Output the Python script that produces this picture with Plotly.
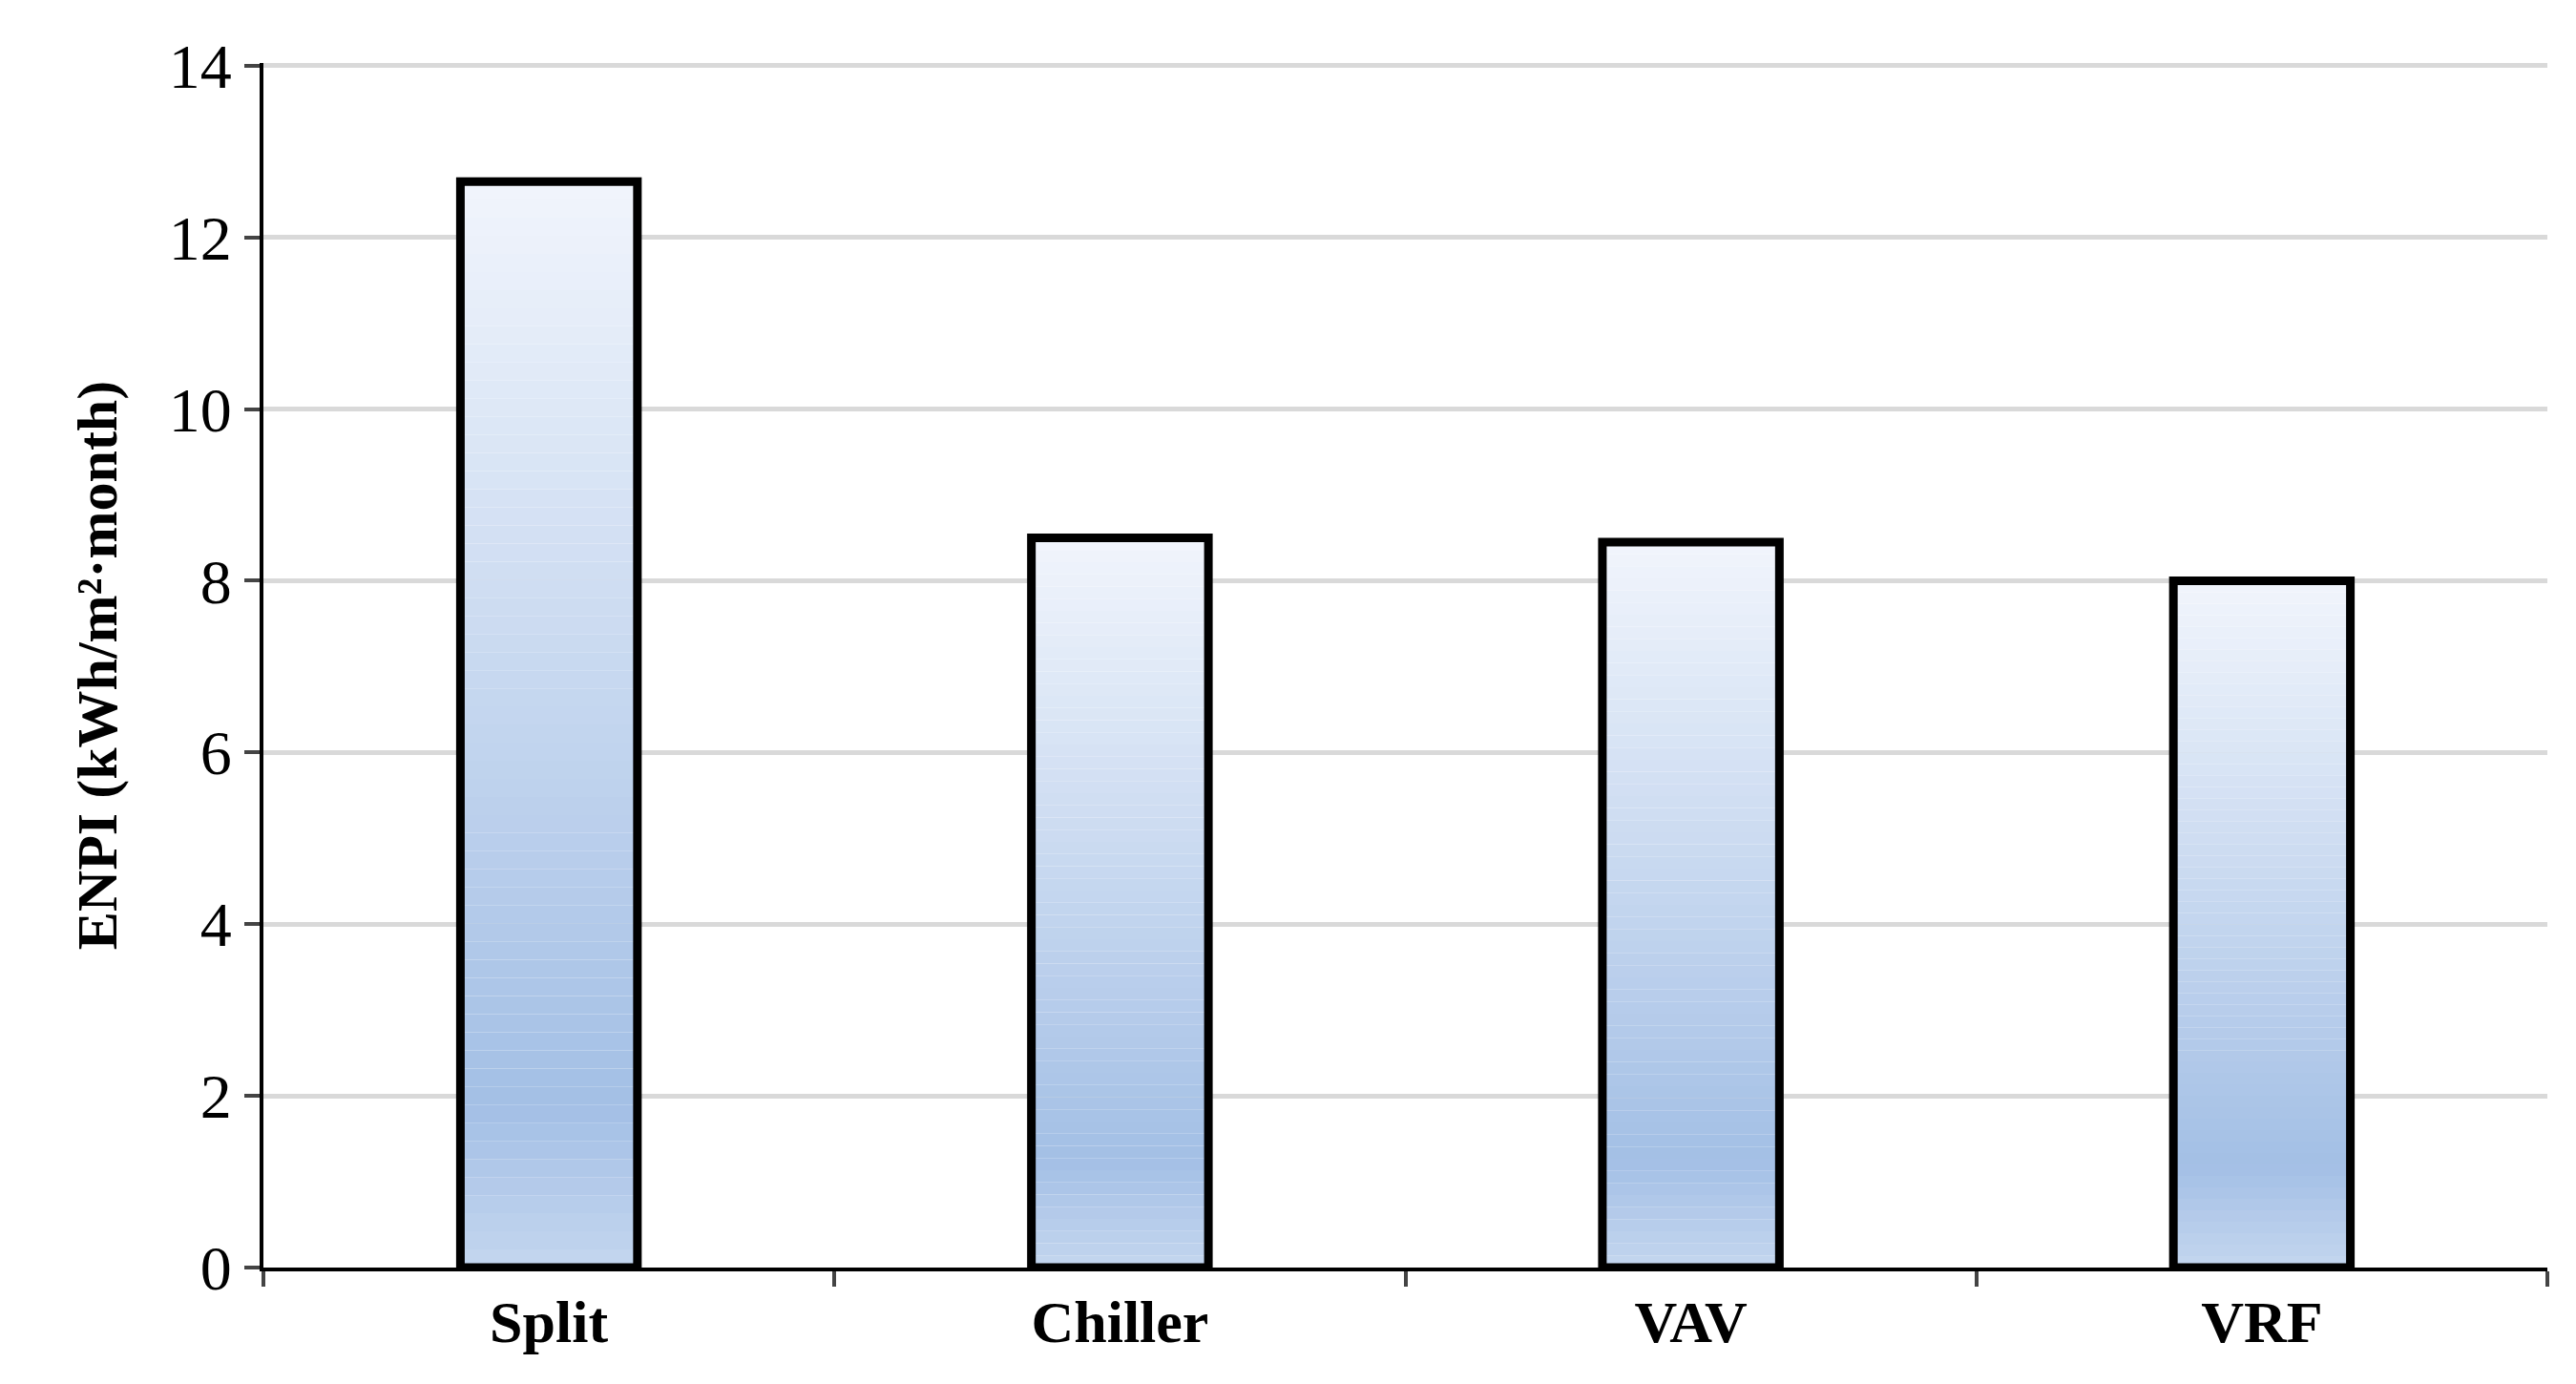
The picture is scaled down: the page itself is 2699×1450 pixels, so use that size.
import plotly.graph_objects as go

categories = ["Split", "Chiller", "VAV", "VRF"]
values = [12.65, 8.5, 8.45, 8.0]

N = 60
def color_at(f):
    stops = [(0.0, (196, 214, 239)), (0.15, (163, 191, 229)), (1.0, (241, 245, 252))]
    for (f0, c0), (f1, c1) in zip(stops, stops[1:]):
        if f <= f1:
            t = (f - f0) / (f1 - f0)
            return "rgb(%d,%d,%d)" % tuple(round(a + (b - a) * t) for a, b in zip(c0, c1))
    return "rgb(241,245,252)"

fig = go.Figure()
for i in range(N):
    f = (i + 0.5) / N
    fig.add_bar(x=categories, y=[v / N for v in values], base=[v / N * i for v in values],
                width=0.31, offsetgroup="o",
                marker=dict(color=color_at(f), line=dict(width=0)),
                showlegend=False, hoverinfo="skip")
fig.add_bar(x=categories, y=values, width=0.31, base=0, offsetgroup="o",
            marker=dict(color="rgba(0,0,0,0)", line=dict(color="black", width=9)),
            showlegend=False)

fig.update_layout(
    barmode="overlay", width=2699, height=1450,
    paper_bgcolor="white", plot_bgcolor="white",
    margin=dict(l=268, r=38, t=58, b=130),
    font=dict(family="Liberation Serif", color="black", size=66),
)
fig.update_yaxes(range=[0, 14.03], dtick=2, showgrid=True, gridcolor="#d9d9d9", gridwidth=5,
                 showline=True, linecolor="black", linewidth=4, ticks="outside",
                 ticklen=16, tickwidth=4, tickfont=dict(size=66),
                 title=dict(text="<b>ENPI (kWh/m²·month)</b>", font=dict(size=60), standoff=36))
fig.update_xaxes(showline=True, linecolor="black", linewidth=4, ticks="outside",
                 tickson="boundaries", ticklen=16, tickwidth=4,
                 tickfont=dict(size=62), tickprefix="<b>", ticksuffix="</b>")
fig.write_html("out.html")
